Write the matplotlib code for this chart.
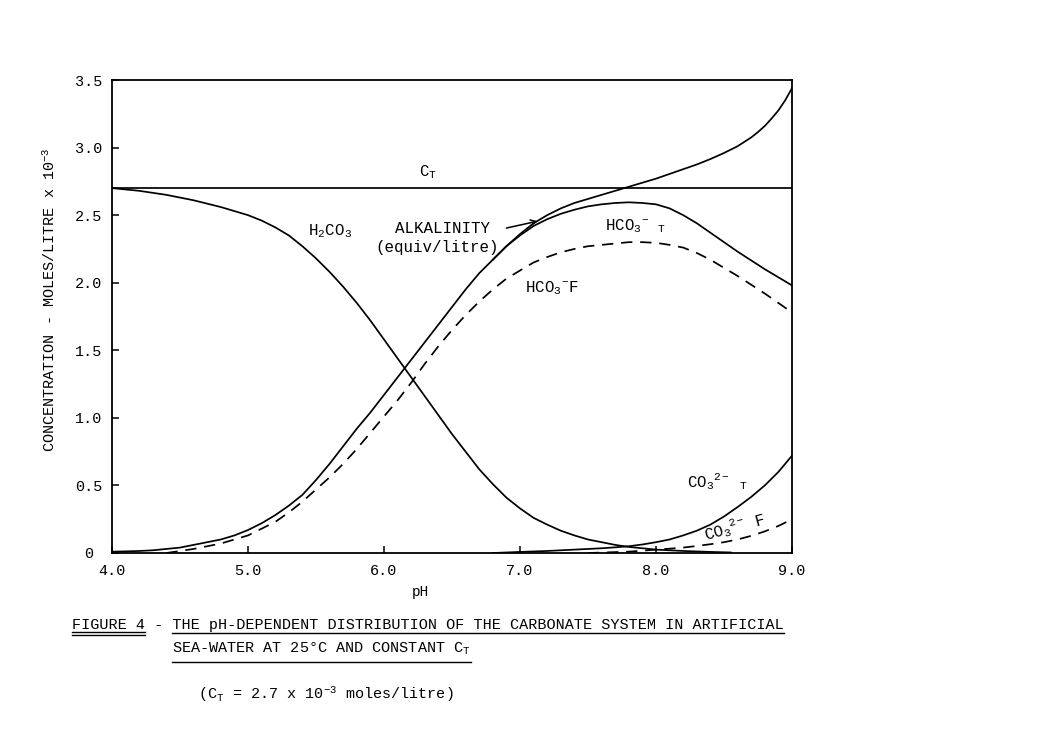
import matplotlib
matplotlib.use("Agg")
import matplotlib.pyplot as plt
from matplotlib.lines import Line2D

plt.rcParams['font.family'] = ['Liberation Mono', 'DejaVu Sans Mono']
plt.rcParams['mathtext.fontset'] = 'custom'
plt.rcParams['mathtext.rm'] = 'Liberation Mono'
plt.rcParams['mathtext.it'] = 'Liberation Mono'
plt.rcParams['mathtext.bf'] = 'Liberation Mono:bold'
plt.rcParams['mathtext.tt'] = 'Liberation Mono'
plt.rcParams['mathtext.default'] = 'regular'

# ---------------- data ----------------
C_T = 2.7

ph_h2co3 = [4.0, 4.1, 4.2, 4.3, 4.4, 4.5, 4.6, 4.7, 4.8, 4.9, 5.0, 5.1, 5.2,
            5.3, 5.4, 5.5, 5.6, 5.7, 5.8, 5.9, 6.0, 6.1, 6.2, 6.3, 6.4, 6.5,
            6.6, 6.7, 6.8, 6.9, 7.0, 7.1, 7.2, 7.3, 7.4, 7.5, 7.6, 7.7, 7.8,
            7.9, 8.0, 8.2, 8.4, 8.55]
h2co3 = [2.70, 2.69, 2.68, 2.665, 2.65, 2.63, 2.61, 2.585, 2.56, 2.53, 2.50,
         2.46, 2.41, 2.35, 2.27, 2.18, 2.08, 1.97, 1.85, 1.72, 1.58, 1.44, 1.30,
         1.16, 1.02, 0.88, 0.75, 0.62, 0.51, 0.41, 0.33, 0.26, 0.21, 0.165,
         0.13, 0.10, 0.08, 0.06, 0.045, 0.035, 0.025, 0.015, 0.008, 0.004]

ph_hco3_t = [4.0, 4.1, 4.2, 4.3, 4.4, 4.5, 4.6, 4.7, 4.8, 4.9, 5.0, 5.1, 5.2,
             5.3, 5.4, 5.5, 5.6, 5.7, 5.8, 5.9, 6.0, 6.1, 6.2, 6.3, 6.4, 6.5,
             6.6, 6.7, 6.8, 6.9, 7.0, 7.1, 7.2, 7.3, 7.4, 7.5, 7.6, 7.7, 7.8,
             7.9, 8.0, 8.1, 8.2, 8.3, 8.4, 8.5, 8.6, 8.7, 8.8, 8.9, 9.0]
hco3_t = [0.01, 0.012, 0.015, 0.02, 0.03, 0.04, 0.06, 0.08, 0.10, 0.13, 0.17,
          0.22, 0.28, 0.35, 0.43, 0.54, 0.66, 0.79, 0.92, 1.04, 1.17, 1.30, 1.43,
          1.56, 1.69, 1.82, 1.95, 2.07, 2.17, 2.27, 2.35, 2.42, 2.47, 2.51, 2.54,
          2.565, 2.58, 2.59, 2.595, 2.59, 2.58, 2.55, 2.50, 2.44, 2.37, 2.30,
          2.23, 2.165, 2.10, 2.04, 1.98]

ph_alk = [6.8, 6.9, 7.0, 7.1, 7.2, 7.3, 7.4, 7.5, 7.6, 7.7, 7.8, 7.9, 8.0, 8.1,
          8.2, 8.3, 8.4, 8.5, 8.6, 8.7, 8.75, 8.8, 8.85, 8.9, 8.95, 9.0]
alkalinity = [2.17, 2.27, 2.36, 2.44, 2.50, 2.55, 2.59, 2.62, 2.65, 2.68, 2.71,
              2.74, 2.77, 2.805, 2.84, 2.875, 2.915, 2.96, 3.01, 3.075, 3.115,
              3.16, 3.215, 3.275, 3.35, 3.44]

ph_hco3_f = [4.4, 4.5, 4.6, 4.7, 4.8, 4.9, 5.0, 5.1, 5.2, 5.3, 5.4, 5.5, 5.6,
             5.7, 5.8, 5.9, 6.0, 6.1, 6.2, 6.3, 6.4, 6.5, 6.6, 6.7, 6.8, 6.9,
             7.0, 7.1, 7.2, 7.3, 7.4, 7.5, 7.6, 7.7, 7.8, 7.9, 8.0, 8.1, 8.2,
             8.3, 8.4, 8.5, 8.6, 8.7, 8.8, 8.9, 9.0]
hco3_f = [0.0, 0.015, 0.03, 0.05, 0.07, 0.10, 0.13, 0.18, 0.23, 0.30, 0.38,
          0.47, 0.56, 0.66, 0.77, 0.89, 1.01, 1.13, 1.26, 1.40, 1.53, 1.65, 1.76,
          1.86, 1.95, 2.03, 2.09, 2.15, 2.19, 2.225, 2.25, 2.27, 2.28, 2.29, 2.30,
          2.30, 2.295, 2.28, 2.26, 2.22, 2.17, 2.11, 2.05, 1.985, 1.92, 1.85, 1.78]

ph_co3_t = [6.8, 7.0, 7.2, 7.4, 7.6, 7.7, 7.8, 7.9, 8.0, 8.1, 8.2, 8.3, 8.4,
            8.5, 8.6, 8.7, 8.8, 8.9, 9.0]
co3_t = [0.0, 0.008, 0.015, 0.025, 0.035, 0.042, 0.05, 0.063, 0.08, 0.10, 0.13,
         0.165, 0.21, 0.27, 0.34, 0.415, 0.50, 0.60, 0.72]

ph_co3_f = [7.5, 7.8, 7.9, 8.0, 8.1, 8.2, 8.3, 8.4, 8.5, 8.6, 8.7, 8.8, 8.9, 9.0]
co3_f = [0.0, 0.01, 0.017, 0.025, 0.032, 0.04, 0.052, 0.065, 0.08, 0.10, 0.127,
         0.16, 0.20, 0.25]

x_ticks = [4.0, 5.0, 6.0, 7.0, 8.0, 9.0]
x_tick_labels = ['4.0', '5.0', '6.0', '7.0', '8.0', '9.0']
y_ticks = [0, 0.5, 1.0, 1.5, 2.0, 2.5, 3.0, 3.5]
y_tick_labels = ['0', '0.5', '1.0', '1.5', '2.0', '2.5', '3.0', '3.5']

# ---------------- figure ----------------
W, H = 1051, 729
FS = 10.9
fig = plt.figure(figsize=(W / 100, H / 100), dpi=100)
fig.patch.set_facecolor('white')


def fx(px):
    return px / W


def fy(py):
    return 1 - py / H


ax = fig.add_axes([fx(112), fy(553), 680 / W, 473 / H])

LW = 1.25
dash = (0, (6.5, 4.5))
ax.axhline(C_T, color='k', lw=LW)
ax.plot(ph_h2co3, h2co3, color='k', lw=LW)
ax.plot(ph_hco3_t, hco3_t, color='k', lw=LW)
ax.plot(ph_alk, alkalinity, color='k', lw=LW)
ax.plot(ph_hco3_f, hco3_f, color='k', lw=LW, linestyle=dash)
ax.plot(ph_co3_t, co3_t, color='k', lw=LW)
ax.plot(ph_co3_f, co3_f, color='k', lw=LW, linestyle=dash)

ax.set_xlim(4.0, 9.0)
ax.set_ylim(0, 3.5)
ax.set_xticks(x_ticks)
ax.set_xticklabels(x_tick_labels)
ax.set_yticks(y_ticks)
ax.set_yticklabels(y_tick_labels)
ax.tick_params(direction='in', length=5, width=1.1, labelsize=FS, colors='k')
ax.tick_params(axis='y', pad=17)
ax.tick_params(axis='x', pad=8)
for lab in ax.get_yticklabels():
    lab.set_horizontalalignment('center')
for sp in ax.spines.values():
    sp.set_linewidth(1.3)
    sp.set_color('k')

# axis labels
fig.text(fx(420), fy(592), 'pH', ha='center', va='center', fontsize=FS - 0.5)
fig.text(fx(50), fy(300), 'CONCENTRATION - MOLES/LITRE x 10$^{-3}$',
         ha='center', va='center', rotation=90, fontsize=FS)

# curve labels
kw = dict(ha='center', va='center', fontsize=FS + 0.5)
ax.text(6.32, 2.82, 'C$_T$', **kw)
ax.text(5.60, 2.38, 'H$_2$CO$_3$', **kw)
ax.text(6.43, 2.40, 'ALKALINITY', **kw)
ax.text(6.39, 2.26, '(equiv/litre)', **kw)
ax.annotate('', xy=(7.15, 2.46), xytext=(6.88, 2.40),
            arrowprops=dict(arrowstyle='->', color='k', lw=1.1))
ax.text(7.85, 2.42, 'HCO$_3{}^{-}$ $_T$', **kw)
ax.text(7.23, 1.96, 'HCO$_3{}^{-}$F', **kw)
ax.text(8.45, 0.53, 'CO$_3{}^{2-}$ $_T$', **kw)
ax.text(8.58, 0.19, 'CO$_3{}^{2-}$ F', rotation=15, **kw)

# caption
line1 = 'FIGURE 4 - THE pH-DEPENDENT DISTRIBUTION OF THE CARBONATE SYSTEM IN ARTIFICIAL'
t1 = fig.text(fx(72), fy(629), line1, ha='left', va='baseline', fontsize=FS)
t2 = fig.text(fx(172), fy(653), 'SEA-WATER AT 25\u00b0C AND CONSTANT C$_T$',
              ha='left', va='baseline', fontsize=FS)
t3 = fig.text(fx(198), fy(699), '(C$_T$ = 2.7 x 10$^{-3}$ moles/litre)',
              ha='left', va='baseline', fontsize=FS)

fig.canvas.draw()
r = fig.canvas.get_renderer()
b1 = t1.get_window_extent(r)
cw = b1.width / len(line1)


def hline(x0, x1, ypx, lw=1.0):
    fig.add_artist(Line2D([x0 / W, x1 / W], [fy(ypx), fy(ypx)],
                          transform=fig.transFigure, color='k', lw=lw))


hline(b1.x0, b1.x0 + 8 * cw, 632)
hline(b1.x0, b1.x0 + 8 * cw, 635)
hline(b1.x0 + 11 * cw, b1.x1, 633)
b2 = t2.get_window_extent(r)
hline(b2.x0, b2.x1, 662)

fig.savefig('out.png', dpi=100, facecolor='white')
